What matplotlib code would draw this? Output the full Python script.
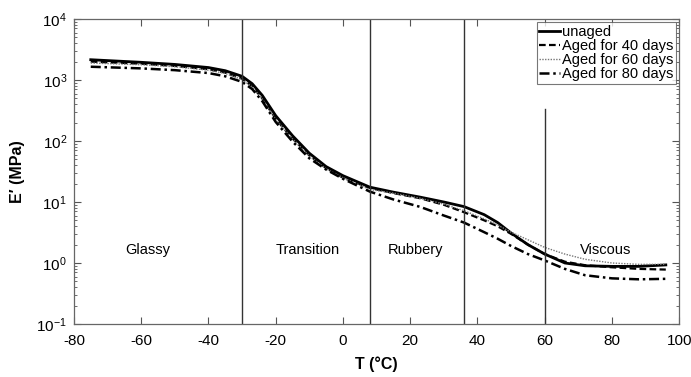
import numpy as np
import matplotlib
matplotlib.use("Agg")
import matplotlib.pyplot as plt
from matplotlib.ticker import LogLocator, NullFormatter

plt.rcParams["font.family"] = ["Liberation Sans", "DejaVu Sans"]
plt.rcParams["axes.unicode_minus"] = False

# Temperature samples (°C)
temp = [-75, -60, -50, -40, -35, -30, -27, -24, -20, -15, -10, -5, 0, 8,
        15, 23, 30, 36, 42, 46, 50, 55, 60, 66, 72, 80, 88, 96]

# Storage modulus E' (MPa)
unaged = [2150, 1950, 1800, 1600, 1420, 1150, 870, 560, 260, 122, 63, 38,
          27, 17.5, 14.5, 12, 10, 8.4, 6.2, 4.6, 3.1, 2.0, 1.4, 1.0, 0.9,
          0.88, 0.88, 0.93]
aged40 = [2000, 1850, 1700, 1500, 1320, 1050, 790, 500, 230, 110, 58, 36,
          25, 17, 14, 11.5, 9, 6.8, 5.0, 4.0, 3.0, 2.0, 1.4, 1.05, 0.92,
          0.85, 0.8, 0.78]
aged60 = [1900, 1780, 1650, 1450, 1280, 1020, 770, 490, 225, 108, 57, 35,
          25, 16, 14, 11.5, 9.2, 7.2, 5.3, 4.2, 3.2, 2.4, 1.8, 1.4, 1.15,
          1.0, 0.95, 0.95]
aged80 = [1650, 1550, 1450, 1300, 1150, 930, 710, 450, 205, 98, 52, 34,
          24, 14.8, 11, 8.3, 6, 4.6, 3.2, 2.5, 1.9, 1.4, 1.1, 0.8, 0.63,
          0.56, 0.54, 0.55]

# Region boundaries and labels
bounds = [-30, 8, 36, 60]
bound_tops = [1e4, 1e4, 1e4, 330]
regions = ["Glassy", "Transition", "Rubbery", "Viscous"]
region_x = [-58, -10.5, 21.5, 78]

fig = plt.figure(figsize=(6.91, 3.77), dpi=100)
ax = fig.add_axes([0.107, 0.1406, 0.876, 0.809])

ax.plot(temp, unaged, color="black", lw=2.0, ls="-", label="unaged")
ax.plot(temp, aged40, color="black", lw=1.6, ls=(0, (3, 1.5)), label="Aged for 40 days")
ax.plot(temp, aged60, color="#777777", lw=1.0, ls=(0, (1, 1)), label="Aged for 60 days")
ax.plot(temp, aged80, color="black", lw=1.8, ls=(0, (4, 1.5, 1, 1.5)), label="Aged for 80 days")

for b, top in zip(bounds, bound_tops):
    ax.plot([b, b], [0.1, top], color="#333333", lw=1.0)

for name, x in zip(regions, region_x):
    ax.text(x, 1.63, name, ha="center", va="center", fontsize=10.5)

ax.set_yscale("log")
ax.set_xlim(-80, 100)
ax.set_ylim(0.1, 1e4)
ax.set_xticks(np.arange(-80, 101, 20))
ax.yaxis.set_major_locator(LogLocator(base=10, numticks=10))
ax.yaxis.set_minor_locator(LogLocator(base=10, subs=np.arange(2, 10), numticks=10))
ax.yaxis.set_minor_formatter(NullFormatter())

ax.tick_params(which="both", direction="in", top=True, right=True,
               labelsize=11, color="#555555")
ax.tick_params(axis="x", pad=7)
ax.tick_params(axis="y", pad=5)
ax.tick_params(which="major", length=5)
ax.tick_params(which="minor", length=2.5)
for sp in ax.spines.values():
    sp.set_color("#666666")
    sp.set_linewidth(0.9)

ax.set_xlabel("T (°C)", fontsize=11.5, fontweight="bold", labelpad=6)
ax.set_ylabel("E′ (MPa)", fontsize=11.5, fontweight="bold", labelpad=8)

leg = ax.legend(loc="upper right", fontsize=10.5, frameon=True, fancybox=False,
                handlelength=1.4, handletextpad=0.15, labelspacing=0.0,
                borderpad=0.2, borderaxespad=0.2)
leg.get_frame().set_edgecolor("#555555")
leg.get_frame().set_linewidth(0.8)

fig.savefig("out.png", dpi=100)
